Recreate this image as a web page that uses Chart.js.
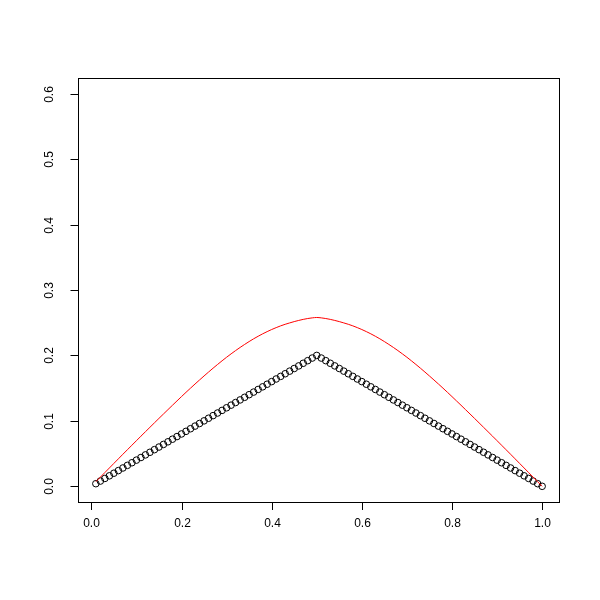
<!DOCTYPE html>
<html>
<head>
<meta charset="utf-8">
<script src="https://cdn.jsdelivr.net/npm/chart.js@4/dist/chart.umd.min.js"></script>
<style>
html,body{margin:0;padding:0;background:#fff;}
canvas{display:block;}
</style>
</head>
<body>
<canvas id="c" width="600" height="600"></canvas>
<script>
const xValues = [0.01,0.02,0.03,0.04,0.05,0.06,0.07,0.08,0.09,0.10,
0.11,0.12,0.13,0.14,0.15,0.16,0.17,0.18,0.19,0.20,
0.21,0.22,0.23,0.24,0.25,0.26,0.27,0.28,0.29,0.30,
0.31,0.32,0.33,0.34,0.35,0.36,0.37,0.38,0.39,0.40,
0.41,0.42,0.43,0.44,0.45,0.46,0.47,0.48,0.49,0.50,
0.51,0.52,0.53,0.54,0.55,0.56,0.57,0.58,0.59,0.60,
0.61,0.62,0.63,0.64,0.65,0.66,0.67,0.68,0.69,0.70,
0.71,0.72,0.73,0.74,0.75,0.76,0.77,0.78,0.79,0.80,
0.81,0.82,0.83,0.84,0.85,0.86,0.87,0.88,0.89,0.90,
0.91,0.92,0.93,0.94,0.95,0.96,0.97,0.98,0.99,1.00];

const pointValues = [0.004,0.008,0.012,0.016,0.020,0.024,0.028,0.032,0.036,0.040,
0.044,0.048,0.052,0.056,0.060,0.064,0.068,0.072,0.076,0.080,
0.084,0.088,0.092,0.096,0.100,0.104,0.108,0.112,0.116,0.120,
0.124,0.128,0.132,0.136,0.140,0.144,0.148,0.152,0.156,0.160,
0.164,0.168,0.172,0.176,0.180,0.184,0.188,0.192,0.196,0.200,
0.196,0.192,0.188,0.184,0.180,0.176,0.172,0.168,0.164,0.160,
0.156,0.152,0.148,0.144,0.140,0.136,0.132,0.128,0.124,0.120,
0.116,0.112,0.108,0.104,0.100,0.096,0.092,0.088,0.084,0.080,
0.076,0.072,0.068,0.064,0.060,0.056,0.052,0.048,0.044,0.040,
0.036,0.032,0.028,0.024,0.020,0.016,0.012,0.008,0.004,0.000];

const curveValues = [0.0070,0.0140,0.0210,0.0280,0.0350,0.0420,0.0490,0.0559,0.0628,0.0697,
0.0766,0.0834,0.0902,0.0970,0.1038,0.1105,0.1172,0.1239,0.1305,0.1371,
0.1436,0.1500,0.1563,0.1625,0.1686,0.1746,0.1805,0.1862,0.1918,0.1972,
0.2024,0.2074,0.2122,0.2168,0.2212,0.2254,0.2293,0.2330,0.2364,0.2396,
0.2425,0.2452,0.2476,0.2497,0.2517,0.2535,0.2551,0.2564,0.2574,0.2580,
0.2574,0.2564,0.2551,0.2535,0.2517,0.2497,0.2476,0.2452,0.2425,0.2396,
0.2364,0.2330,0.2293,0.2254,0.2212,0.2168,0.2122,0.2074,0.2024,0.1972,
0.1918,0.1862,0.1805,0.1746,0.1686,0.1625,0.1563,0.1500,0.1436,0.1371,
0.1305,0.1239,0.1172,0.1105,0.1038,0.0970,0.0902,0.0834,0.0766,0.0697,
0.0628,0.0559,0.0490,0.0420,0.0350,0.0280,0.0210,0.0140,0.0070,0.0000];

const xTicks = [0.0,0.2,0.4,0.6,0.8,1.0];
const yTicks = [0.0,0.1,0.2,0.3,0.4,0.5,0.6];
const xLimits = [-0.0296,1.0396];
const yLimits = [-0.024,0.624];

const pointsData = xValues.map((x,i)=>({x:x,y:pointValues[i]}));
const curveData = xValues.map((x,i)=>({x:x,y:curveValues[i]}));

const FONT = '12px "Liberation Sans", Arial, sans-serif';

const axesPlugin = {
  id:'rAxes',
  afterDraw(chart){
    const ctx = chart.ctx;
    const a = chart.chartArea;
    const xs = chart.scales.x, ys = chart.scales.y;
    ctx.save();
    ctx.strokeStyle = '#000';
    ctx.lineWidth = 1;
    ctx.strokeRect(Math.round(a.left)+0.5, Math.round(a.top)+0.5,
                   Math.round(a.right-a.left)-1, Math.round(a.bottom-a.top));
    ctx.fillStyle = '#000';
    ctx.font = FONT;
    ctx.textAlign = 'center';
    ctx.textBaseline = 'middle';
    xTicks.forEach(v=>{
      const px = Math.round(xs.getPixelForValue(v))+0.5;
      ctx.beginPath();
      ctx.moveTo(px, Math.round(a.bottom)+0.5);
      ctx.lineTo(px, Math.round(a.bottom)+8);
      ctx.stroke();
      ctx.fillText(v.toFixed(1), px, a.bottom+22);
    });
    yTicks.forEach(v=>{
      const py = Math.round(ys.getPixelForValue(v))+0.5;
      ctx.beginPath();
      ctx.moveTo(Math.round(a.left)+0.5, py);
      ctx.lineTo(Math.round(a.left)-7.5, py);
      ctx.stroke();
      ctx.save();
      ctx.translate(a.left-28, py);
      ctx.rotate(-Math.PI/2);
      ctx.fillText(v.toFixed(1), 0, 0);
      ctx.restore();
    });
    ctx.restore();
  }
};

new Chart(document.getElementById('c'), {
  type:'scatter',
  data:{
    datasets:[
      {
        data: curveData,
        showLine: true,
        borderColor: '#ff0000',
        borderWidth: 1,
        pointRadius: 0,
        fill: false,
        cubicInterpolationMode: 'monotone'
      },
      {
        data: pointsData,
        showLine: false,
        pointStyle: 'circle',
        pointRadius: 3.3,
        pointBorderWidth: 1,
        borderColor: '#000',
        backgroundColor: 'rgba(0,0,0,0)',
        pointBackgroundColor: 'rgba(0,0,0,0)',
        pointBorderColor: '#000'
      }
    ]
  },
  options:{
    responsive:false,
    animation:false,
    devicePixelRatio:1,
    layout:{padding:{left:78, right:40, top:78, bottom:98}},
    plugins:{legend:{display:false}, tooltip:{enabled:false}},
    scales:{
      x:{type:'linear', display:false, min:xLimits[0], max:xLimits[1]},
      y:{type:'linear', display:false, min:yLimits[0], max:yLimits[1]}
    }
  },
  plugins:[axesPlugin]
});
</script>
</body>
</html>
